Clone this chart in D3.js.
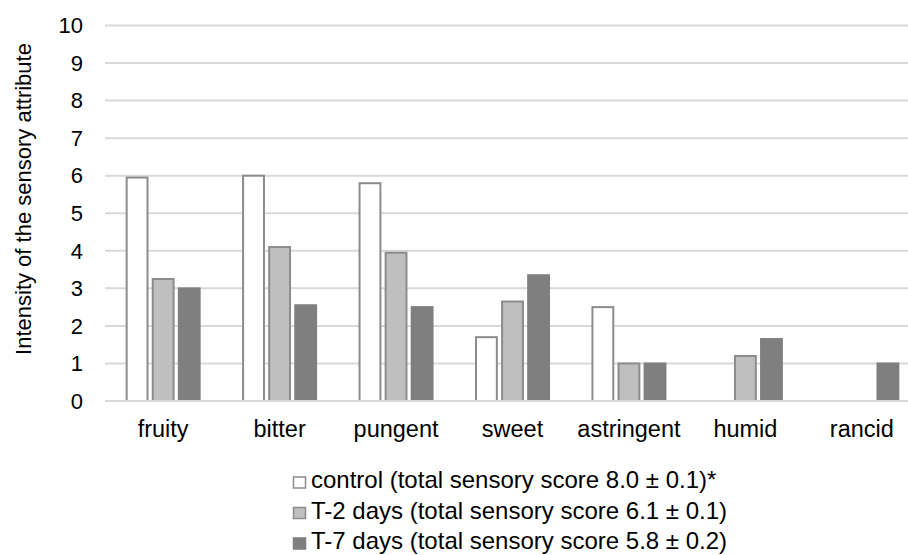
<!DOCTYPE html>
<meta charset="UTF-8">
<style>
  body { margin: 0; background: #fff; }
  svg { display: block; font-family: "Liberation Sans", Arial, sans-serif; }
  .grid line { stroke: #d9d9d9; stroke-width: 2px; }
  .tick-label { font-size: 22px; fill: #000; }
  .cat-label { font-size: 23.5px; fill: #000; }
</style>
<body>
<script src="https://cdn.jsdelivr.net/npm/d3@7"></script>
<script>
  var categories = ["fruity", "bitter", "pungent", "sweet", "astringent", "humid", "rancid"];
  var seriesNames = [
    "control (total sensory score 8.0 \u00b1 0.1)*",
    "T-2 days (total sensory score 6.1 \u00b1 0.1)",
    "T-7 days (total sensory score 5.8 \u00b1 0.2)"
  ];
  var control = [5.95, 6.0, 5.8, 1.7, 2.5, 0, 0];
  var t2days = [3.25, 4.1, 3.95, 2.65, 1.0, 1.2, 0];
  var t7days = [3.0, 2.55, 2.5, 3.35, 1.0, 1.65, 1.0];
  var yTicks = [0, 1, 2, 3, 4, 5, 6, 7, 8, 9, 10];

  var series = [control, t2days, t7days];
  var fills = ["#ffffff", "#bfbfbf", "#7f7f7f"];
  var strokes = ["#8c8c8c", "#8c8c8c", "#7f7f7f"];

  var width = 908, height = 555;

  var svg = d3.select("body").append("svg")
    .attr("width", width)
    .attr("height", height);

  var y = d3.scaleLinear().domain([0, 10]).range([401, 25.5]);

  var x = d3.scaleBand()
    .domain(categories)
    .range([105, 920])
    .paddingInner(0.373)
    .paddingOuter(0.186);

  var xs = d3.scaleBand()
    .domain(d3.range(series.length))
    .range([0, x.bandwidth()])
    .paddingInner(0.2);

  // gridlines
  svg.append("g")
    .attr("class", "grid")
    .selectAll("line")
    .data(yTicks)
    .enter().append("line")
    .attr("x1", 105)
    .attr("x2", width)
    .attr("y1", function(d) { return y(d); })
    .attr("y2", function(d) { return y(d); });

  // y tick labels
  svg.append("g")
    .selectAll("text")
    .data(yTicks)
    .enter().append("text")
    .attr("class", "tick-label")
    .attr("x", 83)
    .attr("y", function(d) { return y(d); })
    .attr("dy", "0.35em")
    .attr("text-anchor", "end")
    .text(function(d) { return d; });

  // y axis title
  svg.append("text")
    .attr("transform", "translate(31,199) rotate(-90)")
    .attr("text-anchor", "middle")
    .style("font-size", "22px")
    .text("Intensity of the sensory attribute");

  // bars
  series.forEach(function(vals, si) {
    svg.append("g")
      .selectAll("rect")
      .data(vals.map(function(v, i) { return { cat: categories[i], v: v }; })
        .filter(function(d) { return d.v > 0; }))
      .enter().append("rect")
      .attr("x", function(d) { return x(d.cat) + xs(si); })
      .attr("width", xs.bandwidth())
      .attr("y", function(d) { return y(d.v); })
      .attr("height", function(d) { return y(0) - y(d.v); })
      .attr("fill", fills[si])
      .attr("stroke", strokes[si])
      .attr("stroke-width", 2);
  });

  // baseline on top
  svg.append("line")
    .attr("x1", 105).attr("x2", width)
    .attr("y1", y(0)).attr("y2", y(0))
    .attr("stroke", "#d9d9d9").attr("stroke-width", 2);

  // category labels
  svg.append("g")
    .selectAll("text")
    .data(categories)
    .enter().append("text")
    .attr("class", "cat-label")
    .attr("x", function(d) { return x(d) + x.bandwidth() / 2; })
    .attr("y", 437)
    .attr("text-anchor", "middle")
    .text(function(d) { return d; });

  // legend
  var legend = svg.append("g")
    .selectAll("g")
    .data(seriesNames)
    .enter().append("g")
    .attr("transform", function(d, i) { return "translate(293," + (488 + i * 30.5) + ")"; });

  legend.append("rect")
    .attr("x", 0.5)
    .attr("y", -11)
    .attr("width", 12)
    .attr("height", 11)
    .attr("fill", function(d, i) { return fills[i]; })
    .attr("stroke", function(d, i) { return strokes[i]; })
    .attr("stroke-width", 1.5);

  legend.append("text")
    .attr("x", 18)
    .attr("y", 0)
    .style("font-size", "24px")
    .text(function(d) { return d; });
</script>
</body>
